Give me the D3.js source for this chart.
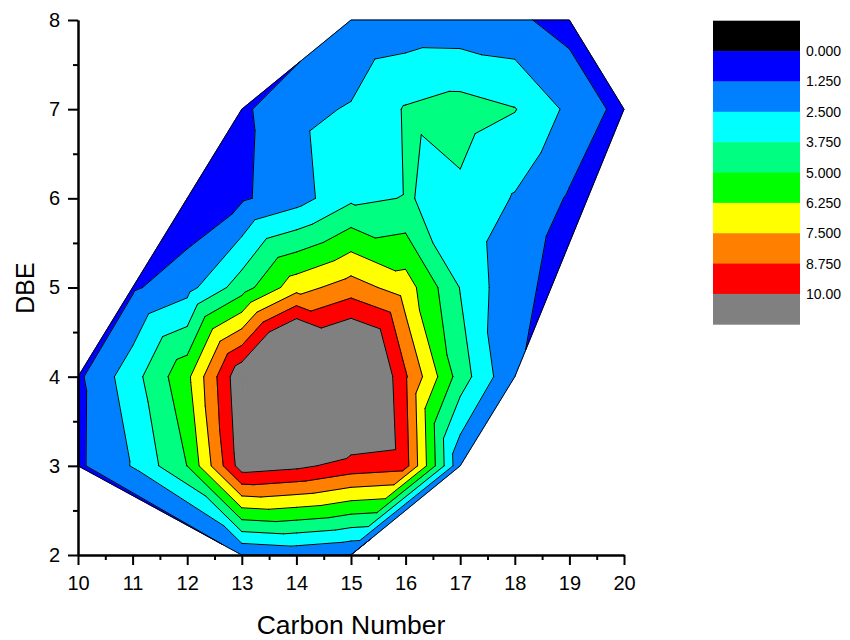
<!DOCTYPE html>
<html>
<head>
<meta charset="utf-8">
<script src="https://cdn.jsdelivr.net/npm/d3@7"></script>
<style>
  body { margin: 0; background: #fff; }
  text { font-family: "Liberation Sans", Arial, Helvetica, sans-serif; }
</style>
</head>
<body>
<svg id="chart" width="850" height="640"></svg>
<script>
// Measured grid: carbon number (x) by double-bond equivalent (y); null = no sample.
const carbon = [10, 11, 12, 13, 14, 15, 16, 17, 18, 19, 20];
const dbe = [2, 3, 4, 5, 6, 7, 8];

const zDBE2 = [null, null, null, 1.28, 1.6, 1.2, null, null, null, null, null];
const zDBE3 = [1.02, 2.58, 5.02, 10.67, 10.3, 9.5, 9.2, 1.48, null, null, null];
const zDBE4 = [1.0, 3.25, 5.94, 11.1, 15.6, 13.6, 8.89, 4.4, 1.3, null, null];
const zDBE5 = [null, 1.07, 2.05, 4.4, 7.0, 8.1, 6.88, 3.7, 1.44, null, null];
const zDBE6 = [null, null, 0.2, 1.08, 1.97, 3.49, 3.8, 3.5, 2.4, 1.11, null];
const zDBE7 = [null, null, null, 1.02, 2.18, 2.6, 3.85, 4.26, 3.8, 2.23, 0.79];
const zDBE8 = [null, null, null, null, null, 1.45, 1.71, 1.67, 1.48, 0.78, null];

// Contour levels and the colour of each band (below first level ... above last level)
const levels = [0, 1.25, 2.5, 3.75, 5, 6.25, 7.5, 8.75, 10];
const levelLabels = ["0.000", "1.250", "2.500", "3.750", "5.000", "6.250", "7.500", "8.750", "10.00"];
const bandColors = ["#000000", "#0000ff", "#0080ff", "#00ffff", "#00ff80",
                    "#00ff00", "#ffff00", "#ff8000", "#ff0000", "#808080"];

// Axis ticks
const xMinorTicks = [10.5, 11.5, 12.5, 13.5, 14.5, 15.5, 16.5, 17.5, 18.5, 19.5];
const yMinorTicks = [2.5, 3.5, 4.5, 5.5, 6.5, 7.5];

// Cells (by lower-left corner) split along the bottom-left / top-right diagonal
const slashCells = [[12, 5], [15, 4]];

// Extra triangles closing the hull where its edges cut across grid cells
const hullFill = [
  [[13, 7], [14, 7], [15, 8]],
  [[18, 4], [19, 6], [18, 5]],
  [[18, 4], [20, 7], [19, 6]],
  [[15, 2], [17, 3], [16, 3]],
  [[10, 3], [11, 3], [13, 2]],
  [[11, 3], [12, 3], [13, 2]]
];

const rows = [zDBE2, zDBE3, zDBE4, zDBE5, zDBE6, zDBE7, zDBE8];

const svg = d3.select("#chart");
const x = d3.scaleLinear().domain([10, 20]).range([78, 624]);
const y = d3.scaleLinear().domain([2, 8]).range([555, 20]);

function node(c, d) {
  const i = carbon.indexOf(c), j = dbe.indexOf(d);
  if (i < 0 || j < 0) return null;
  const v = rows[j][i];
  return v == null ? null : { c, d, z: v };
}

// Triangulate the grid
const triangles = [];
for (let j = 0; j < dbe.length - 1; j++) {
  for (let i = 0; i < carbon.length - 1; i++) {
    const c0 = carbon[i], c1 = carbon[i + 1], d0 = dbe[j], d1 = dbe[j + 1];
    const p00 = node(c0, d0), p10 = node(c1, d0), p01 = node(c0, d1), p11 = node(c1, d1);
    const present = [p00, p10, p11, p01].filter(Boolean);
    if (present.length === 4) {
      const slash = slashCells.some(([c, d]) => c === c0 && d === d0);
      if (slash) triangles.push([p00, p10, p11], [p00, p11, p01]);
      else triangles.push([p00, p10, p01], [p10, p11, p01]);
    } else if (present.length === 3) {
      triangles.push(present);
    }
  }
}
hullFill.forEach(t => triangles.push(t.map(([c, d]) => node(c, d))));

// Clip a polygon (with linear z) to z >= level or z < level
function clipPoly(poly, level, keepAbove) {
  const out = [];
  const inside = p => keepAbove ? p.z >= level : p.z < level;
  for (let k = 0; k < poly.length; k++) {
    const a = poly[k], b = poly[(k + 1) % poly.length];
    const ia = inside(a), ib = inside(b);
    if (ia) out.push(a);
    if (ia !== ib) {
      const t = (level - a.z) / (b.z - a.z);
      out.push({ c: a.c + t * (b.c - a.c), d: a.d + t * (b.d - a.d), z: level });
    }
  }
  return out;
}

const toPath = poly => "M" + poly.map(p => x(p.c).toFixed(2) + "," + y(p.d).toFixed(2)).join("L") + "Z";

const plot = svg.append("g");

// Filled bands
bandColors.forEach((color, b) => {
  const lo = b === 0 ? -Infinity : levels[b - 1];
  const hi = b === bandColors.length - 1 ? Infinity : levels[b];
  let d = "";
  triangles.forEach(tri => {
    let poly = tri;
    if (lo > -Infinity) poly = clipPoly(poly, lo, true);
    if (poly.length >= 3 && hi < Infinity) poly = clipPoly(poly, hi, false);
    if (poly.length >= 3) d += toPath(poly);
  });
  if (d) {
    plot.append("path").attr("d", d)
      .attr("fill", color).attr("stroke", color)
      .attr("stroke-width", 0.8).attr("stroke-linejoin", "round");
  }
});

// Contour lines
let lines = "";
triangles.forEach(tri => {
  levels.forEach(L => {
    const pts = [];
    for (let k = 0; k < 3; k++) {
      const a = tri[k], b = tri[(k + 1) % 3];
      if ((a.z < L) !== (b.z < L)) {
        const t = (L - a.z) / (b.z - a.z);
        pts.push([x(a.c + t * (b.c - a.c)), y(a.d + t * (b.d - a.d))]);
      }
    }
    if (pts.length === 2) {
      lines += "M" + pts[0][0].toFixed(2) + "," + pts[0][1].toFixed(2) +
               "L" + pts[1][0].toFixed(2) + "," + pts[1][1].toFixed(2);
    }
  });
});
plot.append("path").attr("d", lines).attr("fill", "none")
  .attr("stroke", "#000").attr("stroke-width", 1).attr("stroke-linecap", "round");

// Outline of the sampled region
const samplePts = [];
rows.forEach((row, j) => row.forEach((v, i) => { if (v != null) samplePts.push([x(carbon[i]), y(dbe[j])]); }));
const hull = d3.polygonHull(samplePts);
plot.append("path").attr("d", "M" + hull.join("L") + "Z")
  .attr("fill", "none").attr("stroke", "#000").attr("stroke-width", 1).attr("stroke-linejoin", "round");

// Axes
function styleAxis(g, size) {
  g.attr("font-size", size).attr("font-family", "'Liberation Sans', Arial, sans-serif");
  g.selectAll("path, line").attr("stroke", "#000").attr("stroke-width", 2);
  g.selectAll("text").attr("fill", "#000");
}
const xMinor = svg.append("g").attr("transform", "translate(0,555)")
  .call(d3.axisBottom(x).tickValues(xMinorTicks).tickSize(5).tickSizeOuter(0).tickFormat(""));
styleAxis(xMinor, 20);
const yMinor = svg.append("g").attr("transform", "translate(78,0)")
  .call(d3.axisLeft(y).tickValues(yMinorTicks).tickSize(5).tickSizeOuter(0).tickFormat(""));
styleAxis(yMinor, 20);

const xAxis = svg.append("g").attr("transform", "translate(0,555)")
  .call(d3.axisBottom(x).tickValues(carbon).tickSize(10).tickPadding(11).tickSizeOuter(0)
    .tickFormat(d3.format("d")));
styleAxis(xAxis, 20);
const yAxis = svg.append("g").attr("transform", "translate(78,0)")
  .call(d3.axisLeft(y).tickValues(dbe).tickSize(10).tickPadding(8).tickSizeOuter(0)
    .tickFormat(d3.format("d")));
styleAxis(yAxis, 20);

// Axis titles
svg.append("text").attr("x", 351).attr("y", 634).attr("text-anchor", "middle")
  .attr("font-size", 26.5).text("Carbon Number");
svg.append("text").attr("transform", "translate(34,288) rotate(-90)").attr("text-anchor", "middle")
  .attr("font-size", 25).text("DBE");

// Colour scale legend
const legend = svg.append("g");
const boxTop = 20.7, boxH = 30.36;
bandColors.forEach((color, b) => {
  legend.append("rect").attr("x", 713).attr("y", boxTop + b * boxH)
    .attr("width", 87).attr("height", boxH + 0.4).attr("fill", color);
});
levelLabels.forEach((lab, i) => {
  legend.append("text").attr("x", 806).attr("y", boxTop + (i + 1) * boxH)
    .attr("dy", "0.36em").attr("font-size", 14).text(lab);
});
</script>
</body>
</html>
